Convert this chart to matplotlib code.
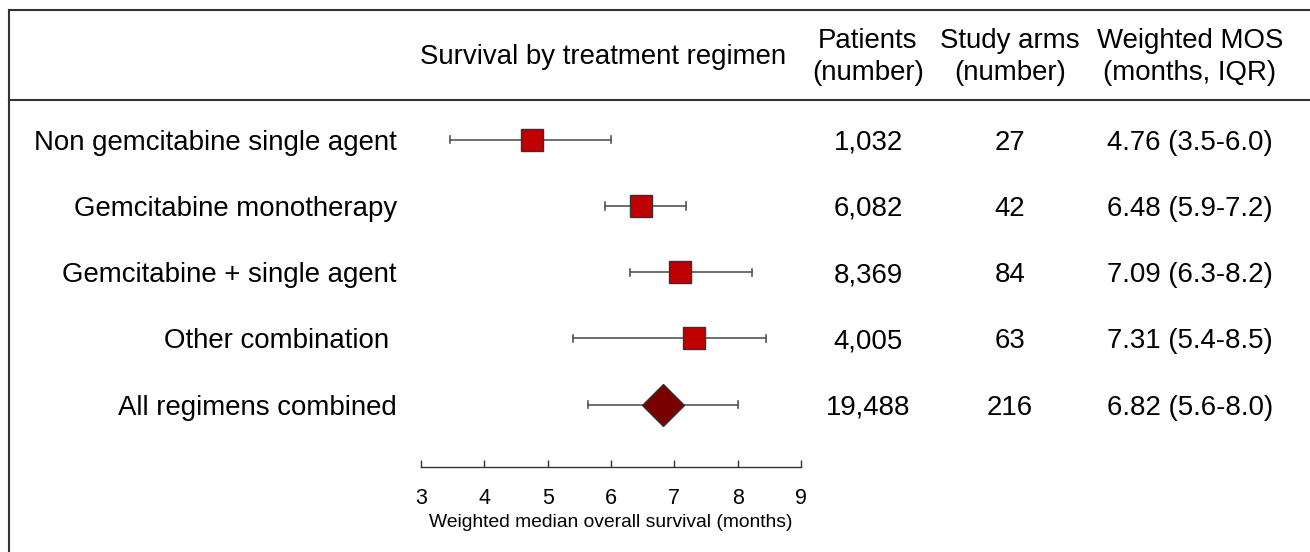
import numpy as np
import matplotlib.pyplot as plt
from matplotlib.lines import Line2D
from matplotlib.transforms import blended_transform_factory

plt.rcParams['font.family'] = ['Liberation Sans', 'DejaVu Sans']

regimens = ["Non gemcitabine single agent", "Gemcitabine monotherapy",
            "Gemcitabine + single agent", "Other combination ",
            "All regimens combined"]
mos = [4.76, 6.48, 7.09, 7.31, 6.82]
iqr_low = [3.45, 5.9, 6.3, 5.4, 5.64]
iqr_high = [6.0, 7.18, 8.22, 8.45, 8.0]
patients = ["1,032", "6,082", "8,369", "4,005", "19,488"]
arms = ["27", "42", "84", "63", "216"]
mos_text = ["4.76 (3.5-6.0)", "6.48 (5.9-7.2)", "7.09 (6.3-8.2)",
            "7.31 (5.4-8.5)", "6.82 (5.6-8.0)"]
x_ticks = [3, 4, 5, 6, 7, 8, 9]

W, H = 1310, 552
fig = plt.figure(figsize=(W / 100, H / 100), dpi=100, facecolor='w')

# forest axes: x 3..9 spans px 421..801, bottom spine at px 467
ax = fig.add_axes([421 / W, 1 - 467 / H, 380 / W, 367 / H])
ax.set_xlim(3, 9)
ax.set_ylim(4.94, -0.6)
for s in ['top', 'right', 'left']:
    ax.spines[s].set_visible(False)
ax.spines['bottom'].set_color('#333333')
ax.spines['bottom'].set_linewidth(1.0)
ax.set_yticks([])
ax.set_xticks(x_ticks)
ax.tick_params(axis='x', direction='in', length=5, width=1.0, color='#333333',
               labelsize=15.5, pad=15)
ax.set_xlabel('Weighted median overall survival (months)', fontsize=13.9, labelpad=4)

rows = np.arange(len(regimens))
for i in rows:
    ax.plot([iqr_low[i], iqr_high[i]], [i, i], color='#555555', lw=1.2, zorder=1)
    for xe in (iqr_low[i], iqr_high[i]):
        ax.plot([xe, xe], [i - 0.055, i + 0.055], color='#555555', lw=1.2, zorder=1)
    if i < len(regimens) - 1:
        ax.plot(mos[i], i, marker='s', ms=15.5, mfc='#C00000', mec='#333333',
                mew=1.0, zorder=3)
    else:
        ax.plot(mos[i], i, marker='D', ms=21, mfc='#7A0000', mec='#333333',
                mew=1.0, zorder=3)

tr = blended_transform_factory(fig.transFigure, ax.transData)
fs = 19.9
for i in rows:
    ax.text(397 / W, i, regimens[i], transform=tr, ha='right', va='center_baseline', fontsize=fs)
    ax.text(868 / W, i, patients[i], transform=tr, ha='center', va='center_baseline', fontsize=fs)
    ax.text(1010 / W, i, arms[i], transform=tr, ha='center', va='center_baseline', fontsize=fs)
    ax.text(1190 / W, i, mos_text[i], transform=tr, ha='center', va='center_baseline', fontsize=fs)

hy = 1 - 57 / H
fig.text(603 / W, hy, 'Survival by treatment regimen', ha='center', va='center', fontsize=fs)
fig.text(868 / W, hy, 'Patients\n(number)', ha='center', va='center', fontsize=fs,
         linespacing=1.35)
fig.text(1010 / W, hy, 'Study arms\n(number)', ha='center', va='center', fontsize=fs,
         linespacing=1.35)
fig.text(1190 / W, hy, 'Weighted MOS\n(months, IQR)', ha='center', va='center', fontsize=fs,
         linespacing=1.35)

# frame lines
for (x0, x1, y0, y1) in [(9, W, 10, 10), (9, W, 100, 100), (9, 9, 10, H)]:
    fig.add_artist(Line2D([x0 / W, x1 / W], [1 - y0 / H, 1 - y1 / H],
                          color='#333333', lw=1.5))

fig.savefig('out.png', dpi=100)
